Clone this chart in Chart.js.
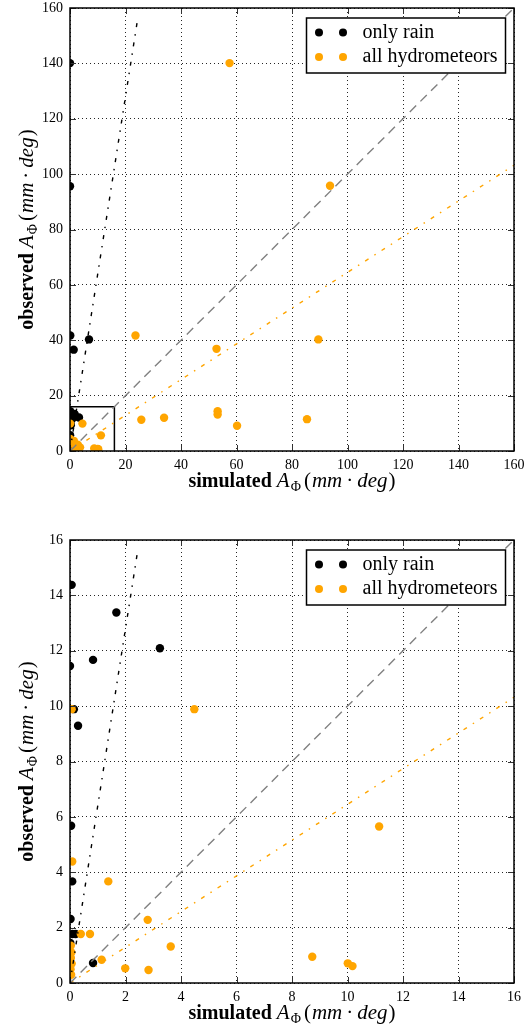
<!DOCTYPE html>
<html>
<head>
<meta charset="utf-8">
<script src="https://cdn.jsdelivr.net/npm/chart.js@4"></script>
<style>
  body { margin: 0; background: #fff; width: 524px; height: 1031px; overflow: hidden; }
  canvas { position: absolute; left: 0; }
</style>
</head>
<body>
<canvas id="fullChart" width="524" height="499" style="top:0"></canvas>
<canvas id="zoomChart" width="524" height="499" style="top:532px"></canvas>
<script>
// simulated vs observed A_phi, mm*deg
const rainSim = [0, 0, 0.1, 1.33, 6.85, 0.06, 1.67, 3.24, 0.83, 0, 0.14, 0.29, 0.04, 0.08, 0.02, 0.08, 0.2, 0.01, 0.83];
const rainObs = [140.1, 95.6, 41.7, 36.6, 40.3, 14.38, 13.38, 12.09, 11.67, 11.45, 9.89, 9.29, 5.68, 3.67, 2.31, 1.77, 1.77, 1.45, 0.72];

const allSim = [57.5, 93.7, 23.6, 52.8, 89.5, 25.7, 33.9, 53.2, 53.2, 60.2, 85.4, 11.14, 8.73, 10.01, 10.18,
  4.48, 0.06, 0.08, 1.38, 2.8, 3.63, 0.39, 0.72, 1.14, 1.99, 2.83, 0.03, 0.05, 0.03, 0.06, 0.02, 0.04];
const allObs = [140.1, 95.8, 41.7, 36.9, 40.3, 11.3, 12.0, 14.4, 13.2, 9.1, 11.5, 5.65, 0.95, 0.71, 0.61,
  9.89, 9.89, 4.39, 3.67, 2.28, 1.32, 1.77, 1.77, 0.84, 0.53, 0.47, 1.35, 1.1, 0.9, 0.7, 0.5, 0.3];

// fitted slopes for the two series
const rainSlope = 6.4;
const allSlope = 0.645;

const fullMax = 160;
const zoomMax = 16;

const serif = '"Liberation Serif", "DejaVu Serif", serif';

function pairs(xs, ys) {
  return xs.map((x, i) => ({ x: x, y: ys[i] }));
}

// parts: [text, font, baseline shift, extra gap after]
function drawRich(ctx, parts, x, y) {
  let total = 0;
  for (const p of parts) { ctx.font = p[1]; total += ctx.measureText(p[0]).width + (p[3] || 0); }
  x -= total / 2;
  for (const p of parts) {
    ctx.font = p[1];
    ctx.fillText(p[0], x, y + (p[2] || 0));
    x += ctx.measureText(p[0]).width + (p[3] || 0);
  }
}

function titleParts(word) {
  const it = 'italic 21px ' + serif, rm = '21px ' + serif;
  return [
    [word + ' ', 'bold 20px ' + serif],
    ['A', it, 0, 1],
    ['Φ', '14px ' + serif, 4, 3],
    ['(', rm, 0, 1],
    ['mm', it, 0, 4],
    ['·', rm, 0, 4],
    ['deg', it, 0, 1],
    [')', rm]
  ];
}

const decorations = {
  id: 'decorations',
  afterDatasetsDraw(chart) {
    const { ctx, chartArea: a, scales } = chart;
    ctx.save();
    // inward ticks on all four sides
    ctx.strokeStyle = '#333';
    ctx.lineWidth = 1;
    ctx.beginPath();
    for (const t of scales.x.ticks) {
      const px = Math.round(scales.x.getPixelForValue(t.value)) + 0.5;
      ctx.moveTo(px, a.bottom); ctx.lineTo(px, a.bottom - 6);
      ctx.moveTo(px, a.top); ctx.lineTo(px, a.top + 6);
    }
    for (const t of scales.y.ticks) {
      const py = Math.round(scales.y.getPixelForValue(t.value)) + 0.5;
      ctx.moveTo(a.left, py); ctx.lineTo(a.left + 6, py);
      ctx.moveTo(a.right, py); ctx.lineTo(a.right - 6, py);
    }
    ctx.stroke();
    // frame
    ctx.strokeStyle = '#000';
    ctx.lineWidth = 1.5;
    ctx.strokeRect(a.left, a.top, a.right - a.left, a.bottom - a.top);
    ctx.restore();
  },
  afterDraw(chart) {
    const { ctx, chartArea: a } = chart;
    ctx.save();
    ctx.fillStyle = '#000';
    ctx.textAlign = 'left';
    ctx.textBaseline = 'alphabetic';
    drawRich(ctx, titleParts('simulated'), (a.left + a.right) / 2, a.bottom + 36);
    ctx.translate(33, (a.top + a.bottom) / 2);
    ctx.rotate(-Math.PI / 2);
    drawRich(ctx, titleParts('observed'), 0, 0);
    ctx.restore();

    // legend with two markers per entry
    const sets = chart.data.datasets.filter(d => d.legend);
    const bw = 199, bh = 55;
    const bx = a.right - 207.5, by = a.top + 10;
    ctx.save();
    ctx.fillStyle = '#fff';
    ctx.fillRect(bx, by, bw, bh);
    ctx.strokeStyle = '#000';
    ctx.lineWidth = 1.5;
    ctx.strokeRect(bx, by, bw, bh);
    ctx.font = '20px ' + serif;
    ctx.textBaseline = 'middle';
    sets.forEach((d, i) => {
      const y = by + 14.5 + i * 24.5;
      ctx.fillStyle = d.backgroundColor;
      for (const dx of [12.5, 36.5]) {
        ctx.beginPath();
        ctx.arc(bx + dx, y, 4, 0, Math.PI * 2);
        ctx.fill();
      }
      ctx.fillStyle = '#000';
      ctx.fillText(d.label, bx + 56, y);
    });
    ctx.restore();
  }
};

function makeChart(id, max, withInset) {
  const lineBase = { type: 'line', pointRadius: 0, borderWidth: 1.4, fill: false, clip: 0, order: 0 };
  const datasets = [
    { label: 'only rain', legend: true, data: pairs(rainSim, rainObs), backgroundColor: '#000',
      pointRadius: 4.2, borderWidth: 0, clip: 0, order: 2 },
    { label: 'all hydrometeors', legend: true, data: pairs(allSim, allObs), backgroundColor: '#ffa500',
      pointRadius: 4.2, borderWidth: 0, clip: 0, order: 1 },
    Object.assign({}, lineBase, { label: '1:1', data: [{ x: 0, y: 0 }, { x: max, y: max }],
      borderColor: '#808080', borderDash: [9, 6] }),
    Object.assign({}, lineBase, { label: 'rain fit',
      data: [{ x: 0, y: 0 }, { x: 0.98 * max / rainSlope, y: 0.98 * max }],
      borderColor: '#000', borderDash: [4, 7, 1.5, 7] }),
    Object.assign({}, lineBase, { label: 'all fit', data: [{ x: 0, y: 0 }, { x: max, y: allSlope * max }],
      borderColor: '#ffa500', borderDash: [4, 7, 1.5, 7] })
  ];
  if (withInset) {
    datasets.push(Object.assign({}, lineBase, { label: 'inset',
      data: [{ x: 0, y: zoomMax }, { x: zoomMax, y: zoomMax }, { x: zoomMax, y: 0 }],
      borderColor: '#000', borderWidth: 1.5 }));
  }

  const axis = (pos) => ({
    type: 'linear',
    position: pos,
    min: 0,
    max: max,
    ticks: {
      stepSize: max / 8,
      color: '#000',
      font: { family: serif, size: 14 },
      padding: pos === 'left' ? 7 : 6,
      maxRotation: 0
    },
    grid: { color: 'rgba(0,0,0,0.85)', lineWidth: 1, drawTicks: false },
    border: { display: false, dash: [1, 3] },
    afterFit(scale) {
      // fixed plot box; tick labels may overhang the padding
      if (pos === 'left') {
        scale.width = 70;
        scale.paddingTop = 0;
        scale.paddingBottom = 0;
      } else {
        scale.height = 48;
        scale.paddingLeft = 0;
        scale.paddingRight = 0;
      }
    }
  });

  return new Chart(document.getElementById(id), {
    type: 'scatter',
    data: { datasets: datasets },
    options: {
      responsive: false,
      devicePixelRatio: 1,
      animation: false,
      layout: { padding: { top: 8, right: 10, left: 0, bottom: 0 } },
      plugins: { legend: { display: false }, tooltip: { enabled: false } },
      scales: { x: axis('bottom'), y: axis('left') }
    },
    plugins: [decorations]
  });
}

makeChart('fullChart', fullMax, true);
makeChart('zoomChart', zoomMax, false);
</script>
</body>
</html>
